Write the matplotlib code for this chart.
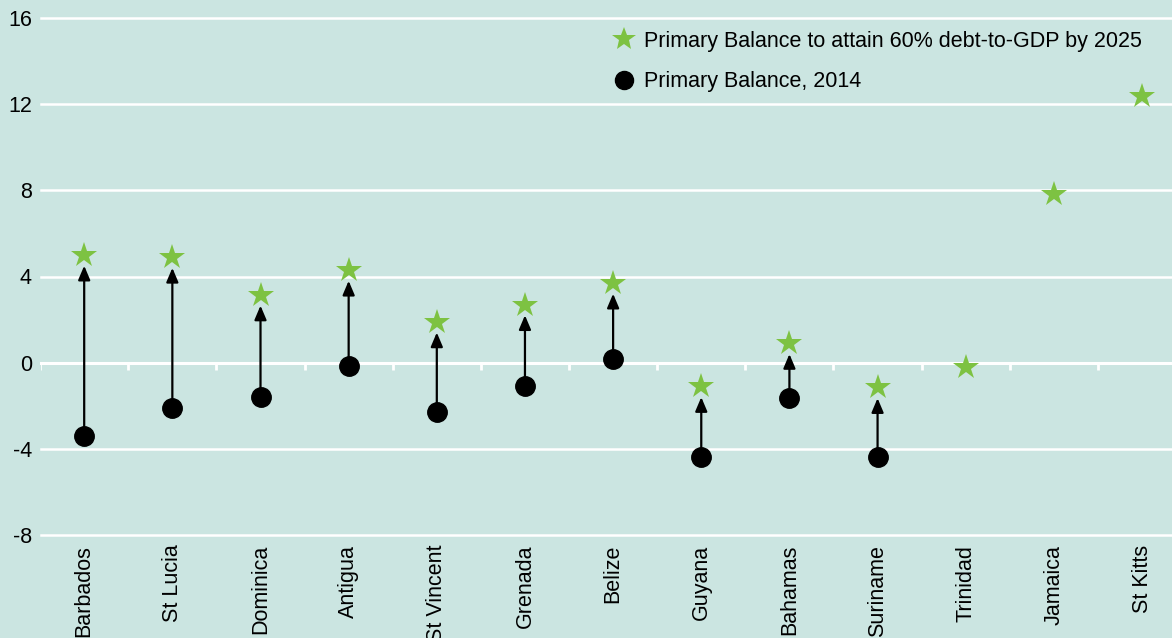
import matplotlib
matplotlib.use("Agg")
import matplotlib.pyplot as plt
from matplotlib.lines import Line2D

countries = ["Barbados", "St Lucia", "Dominica", "Antigua", "St Vincent", "Grenada",
             "Belize", "Guyana", "Bahamas", "Suriname", "Trinidad", "Jamaica", "St Kitts"]
target_pb = [5.0, 4.9, 3.15, 4.3, 1.9, 2.7, 3.7, -1.1, 0.9, -1.15, -0.2, 7.85, 12.4]
pb_2014 = [-3.4, -2.1, -1.6, -0.15, -2.3, -1.1, 0.15, -4.4, -1.65, -4.4, None, None, None]
yticks = [-8, -4, 0, 4, 8, 12, 16]

bg = "#cbe5e1"
green = "#7dc242"
plt.rcParams["font.family"] = ["Liberation Sans", "DejaVu Sans"]
fs = 15.5

fig = plt.figure(figsize=(11.72, 6.38), dpi=100, facecolor=bg)
ax = fig.add_axes([41 / 1172, 1 - 535 / 638, 1 - 41 / 1172, (535 - 18) / 638])
ax.set_facecolor(bg)
ax.set_ylim(-8, 16)
ax.set_xlim(-0.49, 12.34)
for s in ax.spines.values():
    s.set_visible(False)

for yv in yticks:
    ax.axhline(yv, color="white", lw=2.2 if yv == 0 else 1.8, zorder=1, clip_on=False)
# small tick marks below zero line at category boundaries
for i in range(len(countries) + 1):
    ax.plot([i - 0.5, i - 0.5], [0, -0.32], color="white", lw=2, zorder=1, solid_capstyle="butt")

x = list(range(len(countries)))
for xi, t, p in zip(x, target_pb, pb_2014):
    if p is None:
        continue
    ax.annotate("", xy=(xi, t - 0.5), xytext=(xi, p),
                arrowprops=dict(arrowstyle="-|>,head_length=0.85,head_width=0.36",
                                color="black", lw=1.6, shrinkA=0, shrinkB=0),
                zorder=2)

xd = [xi for xi, p in zip(x, pb_2014) if p is not None]
yd = [p for p in pb_2014 if p is not None]
ax.plot(xd, yd, "o", color="black", ms=14, zorder=3, ls="none")
ax.plot(x, target_pb, "*", color=green, ms=19, mew=0, zorder=3, ls="none")

ax.set_yticks(yticks)
ax.set_yticklabels([str(v) for v in yticks], fontsize=fs)
ax.tick_params(axis="y", length=0, pad=6.5)
ax.set_xticks(x)
ax.set_xticklabels(countries, rotation=90, fontsize=fs, va="top", ha="center")
ax.tick_params(axis="x", length=0, pad=7)

handles = [Line2D([], [], marker="*", color=green, ms=18, mew=0, ls="none"),
           Line2D([], [], marker="o", color="black", ms=13, ls="none")]
fig.legend(handles, ["Primary Balance to attain 60% debt-to-GDP by 2025", "Primary Balance, 2014"],
           loc="upper left", bbox_to_anchor=(609 / 1172, 1 - 31 / 638), frameon=False,
           fontsize=fs, handletextpad=0.23, labelspacing=0.9, handlelength=1.4,
           borderaxespad=0, borderpad=0)

fig.savefig("out.png", dpi=100, facecolor=bg)
